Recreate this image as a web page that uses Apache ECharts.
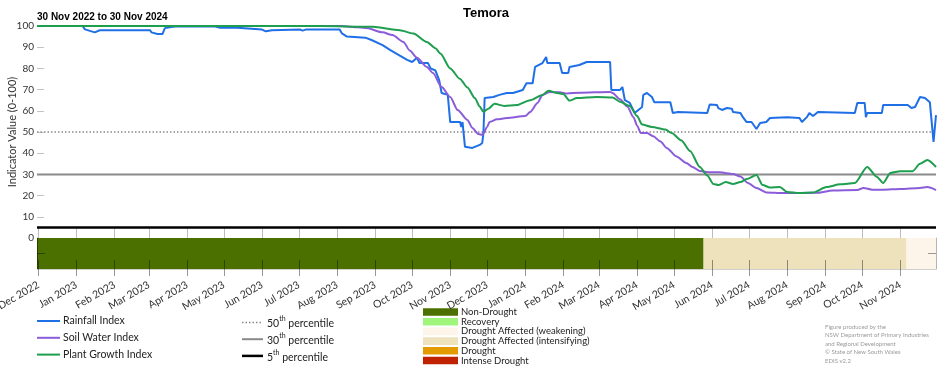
<!DOCTYPE html>
<html><head><meta charset="utf-8">
<script src="https://cdn.jsdelivr.net/npm/echarts@6/dist/echarts.min.js"></script>
<style>html,body{margin:0;padding:0;background:#fff}#c{width:952px;height:370px}</style>
</head><body><div id="c"></div><script>
// ---------- data ----------
const xStart = '2022-11-30';
const xEnd = '2024-11-30';
const monthTicks = ['2022-12-01','2023-01-01','2023-02-01','2023-03-01','2023-04-01','2023-05-01','2023-06-01','2023-07-01','2023-08-01','2023-09-01','2023-10-01','2023-11-01','2023-12-01','2024-01-01','2024-02-01','2024-03-01','2024-04-01','2024-05-01','2024-06-01','2024-07-01','2024-08-01','2024-09-01','2024-10-01','2024-11-01'];
const tickLabels = ['Dec 2022','Jan 2023','Feb 2023','Mar 2023','Apr 2023','May 2023','Jun 2023','Jul 2023','Aug 2023','Sep 2023','Oct 2023','Nov 2023','Dec 2023','Jan 2024','Feb 2024','Mar 2024','Apr 2024','May 2024','Jun 2024','Jul 2024','Aug 2024','Sep 2024','Oct 2024','Nov 2024'];

const rainfallDates = ['2022-11-30','2023-01-06','2023-01-08','2023-01-16','2023-01-20','2023-03-02','2023-03-03','2023-03-08','2023-03-12','2023-03-14','2023-03-22','2023-04-24','2023-04-28','2023-05-12','2023-05-13','2023-06-01','2023-06-04','2023-06-09','2023-07-02','2023-07-04','2023-07-07','2023-08-03','2023-08-05','2023-08-09','2023-08-24','2023-08-29','2023-09-07','2023-09-13','2023-09-21','2023-09-27','2023-10-01','2023-10-05','2023-10-07','2023-10-14','2023-10-16','2023-10-20','2023-10-23','2023-10-25','2023-10-30','2023-11-01','2023-11-09','2023-11-10','2023-11-11','2023-11-13','2023-11-19','2023-11-25','2023-11-27','2023-11-28','2023-11-29','2023-12-06','2023-12-11','2023-12-17','2023-12-22','2023-12-30','2024-01-02','2024-01-07','2024-01-09','2024-01-15','2024-01-18','2024-01-19','2024-01-29','2024-01-31','2024-02-05','2024-02-06','2024-02-14','2024-02-20','2024-03-10','2024-03-11','2024-03-18','2024-03-20','2024-03-22','2024-03-26','2024-03-30','2024-04-02','2024-04-05','2024-04-06','2024-04-09','2024-04-13','2024-04-15','2024-04-28','2024-04-30','2024-05-04','2024-05-28','2024-05-30','2024-06-05','2024-06-06','2024-06-09','2024-06-13','2024-06-17','2024-06-18','2024-06-24','2024-06-26','2024-06-29','2024-07-03','2024-07-07','2024-07-10','2024-07-15','2024-07-18','2024-08-01','2024-08-11','2024-08-13','2024-08-17','2024-08-19','2024-08-22','2024-08-26','2024-09-25','2024-09-27','2024-10-03','2024-10-04','2024-10-05','2024-10-17','2024-10-18','2024-11-07','2024-11-10','2024-11-13','2024-11-17','2024-11-21','2024-11-25','2024-11-28','2024-11-30'];
const rainfallValues = [100,100,98.4,97,98,98,97,96.2,96.2,99,99.8,99.8,99.2,99.2,98.5,98.3,97.5,98,98.3,97.8,98.4,98.4,96.5,95,94.5,93.4,91,88.7,86,84,83,85,82.5,82.5,80,79,74.5,68.4,67.5,54.7,54.7,52.4,54.7,43,42.5,43.9,44.8,49.5,66,66.5,67.5,68.4,68.4,69.8,73,73,80.7,82.5,85.4,82.5,82.5,77.8,77.8,80.7,81.6,83,83,69.8,69.8,71.2,65,63.7,59,60.4,61.8,67.5,68.4,66.5,64,64,59,59.4,59,63,62.7,61.3,60.4,61.3,61,59.4,59,57,54.7,54.7,51.4,54.2,54.7,56.6,57,56.6,54.7,57,59,57.5,59.4,59,63.7,63.7,57,59,59,62.7,62.7,61.3,61.8,66.5,66,64,45.3,58];

const soilDates = ['2022-11-30','2023-08-03','2023-08-11','2023-08-25','2023-09-07','2023-09-15','2023-09-24','2023-09-29','2023-10-05','2023-10-13','2023-10-18','2023-10-25','2023-11-01','2023-11-07','2023-11-15','2023-11-19','2023-11-24','2023-11-27','2023-11-28','2023-12-01','2023-12-03','2023-12-09','2023-12-17','2024-01-01','2024-01-05','2024-01-11','2024-01-15','2024-01-21','2024-01-29','2024-02-04','2024-02-14','2024-03-10','2024-03-12','2024-03-18','2024-03-24','2024-03-29','2024-04-01','2024-04-04','2024-04-09','2024-04-14','2024-04-20','2024-04-25','2024-05-03','2024-05-11','2024-05-16','2024-05-22','2024-05-30','2024-06-07','2024-06-18','2024-06-24','2024-06-30','2024-07-07','2024-07-15','2024-07-29','2024-08-25','2024-09-07','2024-09-27','2024-10-02','2024-10-09','2024-10-18','2024-11-01','2024-11-17','2024-11-23','2024-11-30'];
const soilValues = [100,100,99.7,99,97,95.7,92.5,88.5,85,80.7,77.8,71.2,66.5,60.4,55.7,51.9,49,48.6,49.5,52.4,54.7,56,56.6,57.5,59.4,63.7,67.5,68.9,68.7,68.2,68.5,68.9,68.4,65.5,62,57,53,49.5,49.5,48,45.5,42.5,38.5,35.4,33.5,31.6,31,31,30.2,29,26,23.6,21.5,21.2,21.3,22.4,22.6,23.6,22.8,22.8,23.1,23.6,24,22.6];

const plantDates = ['2022-11-30','2023-07-18','2023-08-30','2023-09-21','2023-10-02','2023-10-13','2023-10-20','2023-10-24','2023-11-01','2023-11-09','2023-11-15','2023-11-21','2023-11-25','2023-11-28','2023-12-02','2023-12-07','2023-12-15','2023-12-25','2024-01-05','2024-01-15','2024-01-20','2024-01-27','2024-02-01','2024-02-06','2024-02-12','2024-02-28','2024-03-12','2024-03-18','2024-03-26','2024-04-01','2024-04-05','2024-04-13','2024-04-24','2024-04-29','2024-05-07','2024-05-14','2024-05-22','2024-05-28','2024-06-02','2024-06-06','2024-06-12','2024-06-18','2024-06-24','2024-06-29','2024-07-07','2024-07-12','2024-07-18','2024-07-26','2024-08-01','2024-08-11','2024-08-22','2024-09-02','2024-09-13','2024-09-25','2024-10-05','2024-10-13','2024-10-18','2024-10-24','2024-11-01','2024-11-11','2024-11-17','2024-11-23','2024-11-30'];
const plantValues = [100,100,99.6,98,96.5,92.5,89.5,87,80,75,71,66,62,59.5,61,63.3,62.3,62.7,65,67.5,69.5,68.4,67.9,64.8,66,66.5,66.3,64.3,62.3,57.5,53.5,52.4,51.2,49.5,46,41,33.5,29.5,25.5,25,26.4,25.5,26.4,27.8,29.7,25,23.8,24,21.7,21.2,21.5,24,25.3,25.9,33.5,28.8,26,30.7,31.5,31.5,35,36.8,33.5];

const percentileValues = [50, 30, 5];
const percentileNames = [['50','th',' percentile'],['30','th',' percentile'],['5','th',' percentile']];

const droughtNames = ['Non-Drought','Recovery','Drought Affected (weakening)','Drought Affected (intensifying)','Drought','Intense Drought'];
const droughtStarts = ['2022-11-30','2024-05-25','2024-11-06'];
const droughtEnds = ['2024-05-25','2024-11-06','2024-11-30'];
const droughtClasses = [0, 3, 2];

const seriesNames = ['Rainfall Index','Soil Water Index','Plant Growth Index'];
const creditLines = ['Figure produced by the','NSW Department of Primary Industries','and Regional Development','\u00A9 State of New South Wales','EDIS v2.2'];

// ---------- styles ----------
const lineColors = ['#1f6fe6','#8b5cd9','#1e9e4f'];
const droughtColors = ['#4b7000','#a0f57c','#fdf5e9','#eee2bd','#e39b00','#c02200'];
const pctStyles = [
  {color:'#8a8a8a', width:1.5, type:[1.5,2]},
  {color:'#8a8a8a', width:2, type:'solid'},
  {color:'#000000', width:2.5, type:'solid'}
];
const FONT = 'Lato, "Noto Sans", sans-serif';

function P(s){ const a = s.split('-').map(Number); return new Date(a[0], a[1]-1, a[2]).getTime(); }
function pairs(d, v){ return d.map((x,i)=>[P(x), v[i]]); }
const tStart = P(xStart), tEnd = P(xEnd);
const monthTickValues = monthTicks.map(P);

const chart = echarts.init(document.getElementById('c'), null, {renderer:'canvas'});

const graphic = [];
seriesNames.forEach((n,i)=>{
  const y = 321 + 16.8*i;
  graphic.push({type:'line', shape:{x1:37,y1:y,x2:60,y2:y}, style:{stroke:lineColors[i], lineWidth:2}, silent:true});
  graphic.push({type:'text', x:63, y:y, style:{text:n, fill:'#222', font:'10.5px '+FONT, verticalAlign:'middle', textVerticalAlign:'middle'}, silent:true});
});
percentileNames.forEach((p,i)=>{
  const y = 322.5 + 16.7*i;
  const st = pctStyles[i];
  graphic.push({type:'line', shape:{x1:242,y1:y,x2:263,y2:y}, style:{stroke:st.color, lineWidth:st.width, lineDash: Array.isArray(st.type)? st.type : null}, silent:true});
  graphic.push({type:'text', x:267, y:y, style:{text:'{n|'+p[0]+'}{s|'+p[1]+'}{n|'+p[2]+'}', verticalAlign:'middle', textVerticalAlign:'middle',
    rich:{n:{fontFamily:FONT, fontSize:10.5, fill:'#222', lineHeight:14, verticalAlign:'bottom'}, s:{fontFamily:FONT, fontSize:7, fill:'#222', lineHeight:14, verticalAlign:'top'}}}, silent:true});
});
droughtNames.forEach((n,i)=>{
  const y = 312 + 9.7*i;
  graphic.push({type:'rect', shape:{x:423,y:y-3.8,width:35,height:7.6}, style:{fill:droughtColors[i]}, silent:true});
  graphic.push({type:'text', x:461, y:y, style:{text:n, fill:'#222', font:'9.5px '+FONT, verticalAlign:'middle', textVerticalAlign:'middle'}, silent:true});
});
creditLines.forEach((t,i)=>{
  graphic.push({type:'text', x:825, y:327 + 8.4*i, style:{text:t, fill:'#9a9a9a', font:'6px '+FONT, verticalAlign:'middle', textVerticalAlign:'middle'}, silent:true});
});

const series = [];
percentileValues.forEach((v,i)=>{
  series.push({type:'line', xAxisIndex:0, yAxisIndex:0, data:[[tStart,v],[tEnd,v]], symbol:'none', silent:true, z:1,
    lineStyle:{color:pctStyles[i].color, width:pctStyles[i].width, type:pctStyles[i].type}});
});
[[rainfallDates,rainfallValues],[soilDates,soilValues],[plantDates,plantValues]].forEach((d,i)=>{
  series.push({type:'line', name:seriesNames[i], xAxisIndex:0, yAxisIndex:0, data:pairs(d[0],d[1]), symbol:'none', z:3+i,
    smooth: i===0 ? false : 0.25, smoothMonotone:'x', lineStyle:{color:lineColors[i], width:2}});
});
series.push({type:'custom', xAxisIndex:2, yAxisIndex:1, z:2, silent:true,
  data: droughtStarts.map((s,i)=>[P(s), P(droughtEnds[i]), droughtClasses[i]]),
  encode:{x:[0,1]},
  renderItem:function(params, api){
    const a = api.coord([api.value(0), 2]);
    const b = api.coord([api.value(1), 0]);
    return {type:'rect', shape:{x:a[0], y:a[1], width:b[0]-a[0], height:b[1]-a[1]}, style:{fill:droughtColors[api.value(2)]}};
  }
});

const option = {
  animation:false,
  backgroundColor:'#fff',
  title:[
    {text:'Temora', left:463, top:7, padding:0, textStyle:{fontFamily:'"Liberation Sans", Arial, sans-serif', fontSize:13, fontWeight:'bold', color:'#000'}},
    {text:'30 Nov 2022 to 30 Nov 2024', left:37, top:12, padding:0, textStyle:{fontFamily:'"Liberation Sans", Arial, sans-serif', fontSize:10, fontWeight:'bold', color:'#000'}}
  ],
  grid:[
    {left:37, right:16, top:26, height:212, outerBoundsMode:'none', containLabel:false},
    {left:37, right:16, top:238, height:31, outerBoundsMode:'none', containLabel:false}
  ],
  xAxis:[
    {gridIndex:0, type:'value', min:tStart, max:tEnd, axisLine:{show:false}, splitLine:{show:false}, axisLabel:{show:false},
      axisTick:{show:true, inside:true, length:10, lineStyle:{color:'#bdbdbd'}, customValues:monthTickValues}},
    {gridIndex:1, type:'value', position:'top', min:tStart, max:tEnd, z:10, axisLine:{show:false}, splitLine:{show:false}, axisLabel:{show:false},
      axisTick:{show:true, inside:true, length:7, lineStyle:{color:'rgba(0,0,0,0.4)'}, customValues:monthTickValues}},
    {gridIndex:1, type:'value', position:'bottom', min:tStart, max:tEnd, z:10, axisLine:{show:true, lineStyle:{color:'#cfcfcf'}}, splitLine:{show:false},
      axisTick:{show:true, inside:true, length:9, lineStyle:{color:'rgba(0,0,0,0.4)'}, customValues:monthTickValues},
      axisLabel:{show:true, customValues:monthTickValues, rotate:30, margin:15, fontFamily:FONT, fontSize:10.5, color:'#333',
        formatter:function(v){ const k = monthTickValues.indexOf(+v); return k>=0 ? tickLabels[k] : ''; }}}
  ],
  yAxis:[
    {gridIndex:0, type:'value', min:0, max:100, interval:10, name:'Indicator Value (0-100)', nameLocation:'middle', nameGap:19, nameMoveOverlap:false,
      nameTextStyle:{fontFamily:FONT, fontSize:11, color:'#333'},
      axisLine:{show:false}, splitLine:{show:false},
      axisTick:{show:true, inside:true, length:7, lineStyle:{color:'#c4c4c4'}},
      axisLabel:{margin:3, fontFamily:FONT, fontSize:10, color:'#333'}},
    {gridIndex:1, type:'value', min:0, max:2, z:10, axisLabel:{show:false}, splitLine:{show:false},
      axisLine:{show:true, lineStyle:{color:'rgba(0,0,0,0.45)'}},
      axisTick:{show:true, inside:true, length:8, customValues:[1], lineStyle:{color:'rgba(0,0,0,0.4)'}}},
    {gridIndex:1, type:'value', position:'right', min:0, max:2, z:10, axisLabel:{show:false}, splitLine:{show:false},
      axisLine:{show:true, lineStyle:{color:'#b5b5b5'}},
      axisTick:{show:true, inside:true, length:8, customValues:[1], lineStyle:{color:'#999'}}}
  ],
  series:series,
  graphic:graphic
};
chart.setOption(option);
</script></body></html>
